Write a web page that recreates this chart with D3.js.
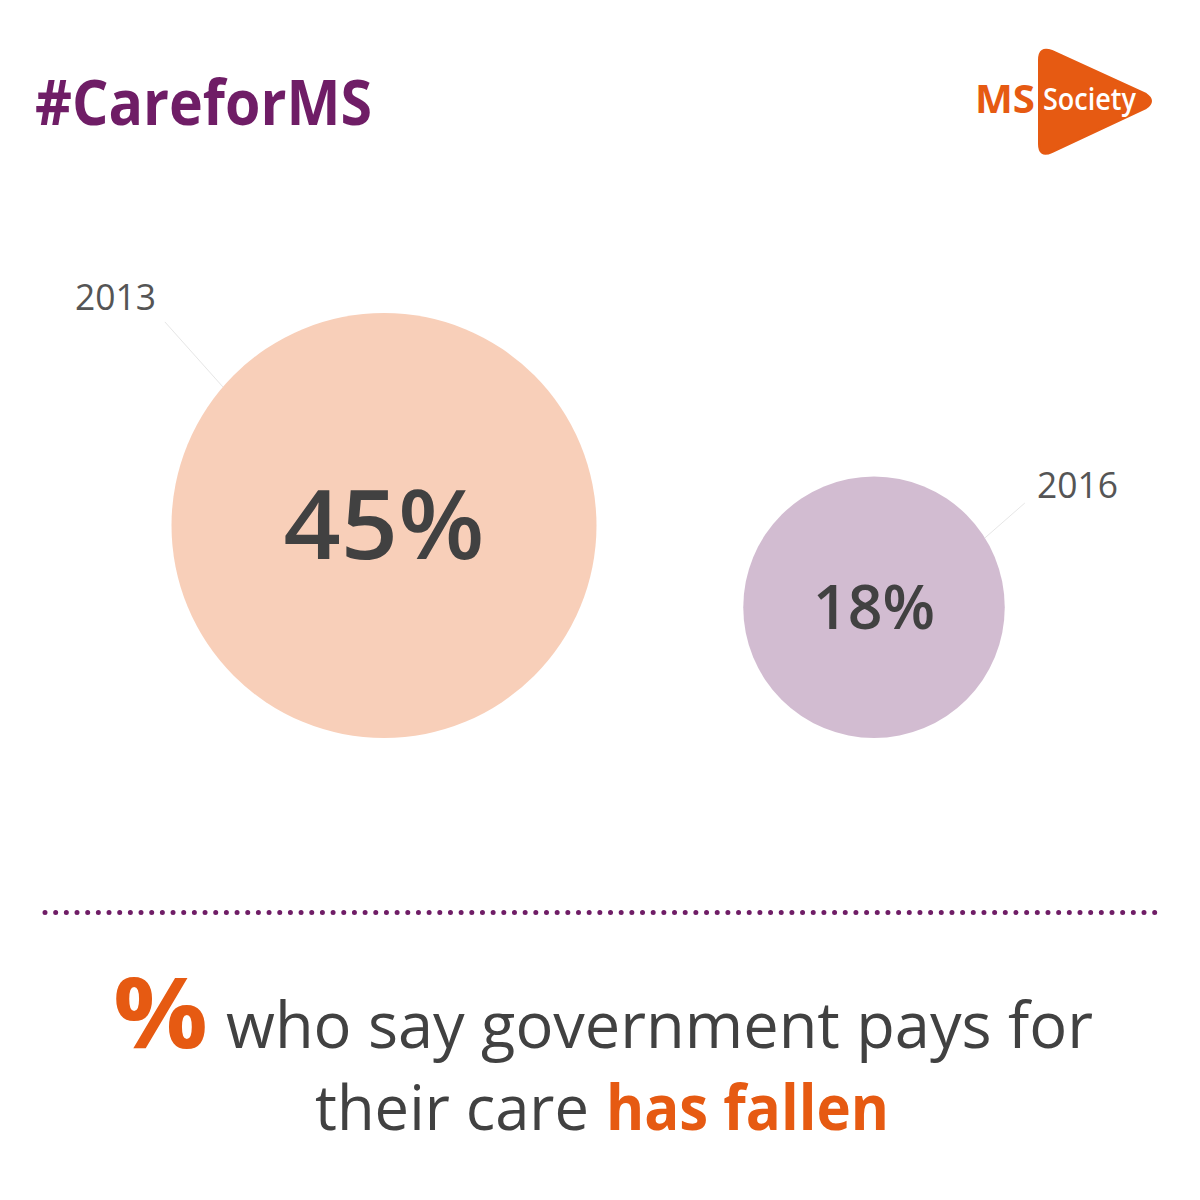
<!DOCTYPE html>
<html>
<head>
<meta charset="utf-8">
<script src="https://cdn.jsdelivr.net/npm/d3@7"></script>
<style>
  html, body { margin: 0; padding: 0; background: #fff; }
  text { font-family: "Open Sans", sans-serif; }
</style>
</head>
<body>
<div id="wrapper"></div>
<script>
const years = [2013, 2016];
const shares = [45, 18];
const circleColors = ["#f8cfb9", "#d2bcd1"];
const hashtag = "#CareforMS";

const purple = "#6f1d66";
const orange = "#e65a12";
const grey = "#414141";

const width = 1200;
const height = 1200;
const circleBottom = 738;

const wrapper = d3
  .select("#wrapper")
  .append("svg")
  .attr("width", width)
  .attr("height", height)
  .style("display", "block");

wrapper
  .append("text")
  .attr("x", 35)
  .attr("y", 125)
  .attr("font-size", 62)
  .attr("font-weight", 700)
  .attr("fill", purple)
  .attr("textLength", 337)
  .attr("lengthAdjust", "spacingAndGlyphs")
  .text(hashtag);

// logo
const logo = wrapper.append("g");
logo
  .append("path")
  .attr("d", "M1039 60 Q1039 46 1052 51 L1146 94 Q1156 101 1146 108 L1052 152 Q1039 158 1039 144 Z")
  .attr("fill", orange)
  .attr("stroke", orange)
  .attr("stroke-width", 2)
  .attr("stroke-linejoin", "round");
logo
  .append("text")
  .attr("x", 975)
  .attr("y", 113)
  .attr("font-size", 39)
  .attr("font-weight", 700)
  .attr("fill", orange)
  .attr("textLength", 60)
  .attr("lengthAdjust", "spacingAndGlyphs")
  .text("MS");
logo
  .append("text")
  .attr("x", 1043)
  .attr("y", 110)
  .attr("font-size", 30)
  .attr("font-weight", 600)
  .attr("fill", "#fff")
  .attr("textLength", 93)
  .attr("lengthAdjust", "spacingAndGlyphs")
  .text("Society");

// circles
const xScale = d3.scaleLinear().domain(d3.extent(years)).range([384, 874]);
const rScale = d3.scalePow().exponent(0.53).domain([0, d3.max(shares)]).range([0, 212.5]);

const bubbles = wrapper
  .append("g")
  .selectAll("g")
  .data(years.map((year, i) => ({ year, share: shares[i], color: circleColors[i] })))
  .join("g")
  .attr("transform", (d) => `translate(${xScale(d.year)}, ${circleBottom - rScale(d.share)})`);

bubbles
  .append("circle")
  .attr("r", (d) => rScale(d.share))
  .attr("fill", (d) => d.color);

bubbles
  .append("text")
  .attr("text-anchor", "middle")
  .attr("y", (d) => (d.share === 45 ? 33 : 22))
  .attr("font-size", (d) => (d.share === 45 ? 96 : 62))
  .attr("font-weight", 600)
  .attr("fill", grey)
  .attr("textLength", (d) => (d.share === 45 ? 201 : 122))
  .attr("lengthAdjust", "spacingAndGlyphs")
  .text((d) => `${d.share}%`);

// leader lines, from the circle edge out towards the year label
const leaderAngle = (year) => (year === 2013 ? 220.7 : -32);
const leaderOut = (year) => (year === 2013 ? [-58, -65] : [40, -35]);

bubbles
  .append("line")
  .each(function (d) {
    const a = (leaderAngle(d.year) * Math.PI) / 180;
    const r = rScale(d.share);
    const [dx, dy] = leaderOut(d.year);
    d3.select(this)
      .attr("x1", Math.cos(a) * r)
      .attr("y1", Math.sin(a) * r)
      .attr("x2", Math.cos(a) * r + dx)
      .attr("y2", Math.sin(a) * r + dy);
  })
  .attr("stroke", "#e6e6e6")
  .attr("stroke-width", 1);

wrapper
  .append("g")
  .selectAll("text")
  .data(years)
  .join("text")
  .attr("x", (d) => (d === 2013 ? 75 : 1037))
  .attr("y", (d) => (d === 2013 ? 310 : 498))
  .attr("font-size", 37)
  .attr("fill", "#555")
  .attr("textLength", 81)
  .attr("lengthAdjust", "spacingAndGlyphs")
  .text((d) => d);

// dotted divider
wrapper
  .append("line")
  .attr("x1", 45)
  .attr("x2", 1161)
  .attr("y1", 912.5)
  .attr("y2", 912.5)
  .attr("stroke", purple)
  .attr("stroke-width", 5)
  .attr("stroke-linecap", "round")
  .attr("stroke-dasharray", "0 10.67");

// caption
const caption = [
  { x: 113, y: 1048, size: 98, weight: 700, fill: orange, length: 95, text: "%" },
  { x: 226, y: 1048, size: 64, weight: 400, fill: grey, length: 867, text: "who say government pays for" },
  { x: 315, y: 1130, size: 62, weight: 400, fill: grey, length: 274, text: "their care" },
  { x: 606, y: 1130, size: 62, weight: 700, fill: orange, length: 283, text: "has fallen" },
];

wrapper
  .append("g")
  .selectAll("text")
  .data(caption)
  .join("text")
  .attr("x", (d) => d.x)
  .attr("y", (d) => d.y)
  .attr("font-size", (d) => d.size)
  .attr("font-weight", (d) => d.weight)
  .attr("fill", (d) => d.fill)
  .attr("textLength", (d) => d.length)
  .attr("lengthAdjust", "spacingAndGlyphs")
  .text((d) => d.text);
</script>
</body>
</html>
